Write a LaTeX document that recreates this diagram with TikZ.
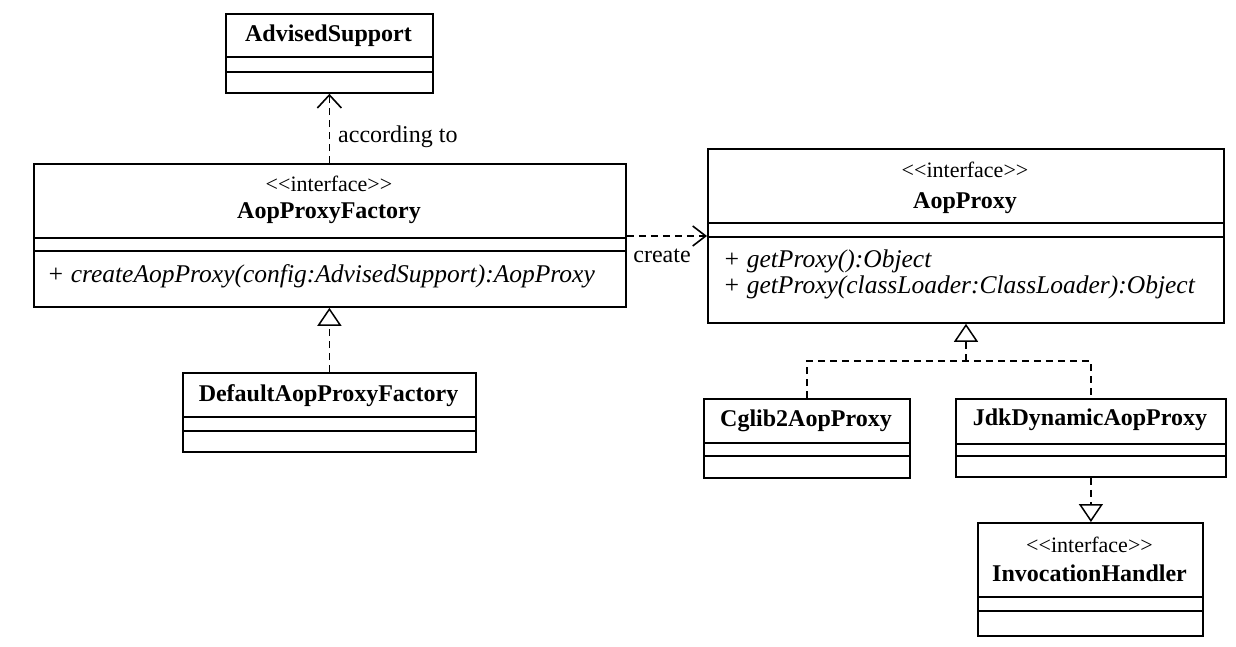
\documentclass[tikz,border=0pt]{standalone}
\usepackage{fontspec}
\setmainfont{Liberation Serif}
\usetikzlibrary{arrows.meta}
\newcommand{\stereotxt}{<\kern0pt<\kern0pt interface\kern0pt>\kern0pt>}
\begin{document}
\begin{tikzpicture}[x=1pt,y=-1pt,
  cls/.style={draw, line width=1.8pt, anchor=north west, inner sep=0pt},
  sepl/.style={line width=1.5pt},
  txtbase/.style={text height=.7em, text depth=.2em, inner sep=0pt, yshift=-3pt},
  cname/.style={txtbase, font=\fontsize{24}{28}\selectfont\bfseries},
  stereo/.style={txtbase, font=\fontsize{22}{26}\selectfont},
  meth/.style={txtbase, anchor=west, font=\fontsize{25.5}{30}\selectfont\itshape},
  lbl/.style={txtbase, font=\fontsize{24}{28}\selectfont},
  dep/.style={line width=1.6pt, dash pattern=on 7pt off 5pt},
  usearrow/.style={dep, -{Straight Barb[length=13pt,width=#1,line width=1.6pt]}},
  realz/.style={dep, -{Triangle[length=18pt,width=24pt,fill=white,line width=1.5pt]}}
]
\fill[white] (0,0) rectangle (1236,646);
\useasboundingbox (0,0) rectangle (1236,646);

% AdvisedSupport
\node[cls, minimum width=207pt, minimum height=79pt] (adv) at (225,13) {};
\draw[sepl] (adv.west |- 0,57) -- (adv.east |- 0,57);
\draw[sepl] (adv.west |- 0,72) -- (adv.east |- 0,72);
\node[cname] (advn) at (328.5,36) {AdvisedSupport};

% AopProxyFactory
\node[cls, minimum width=592pt, minimum height=143pt] (apf) at (33,163) {};
\draw[sepl] (apf.west |- 0,238) -- (apf.east |- 0,238);
\draw[sepl] (apf.west |- 0,251) -- (apf.east |- 0,251);
\node[stereo] (apfs) at (329,186) {\stereotxt};
\node[cname] (apfn) at (329,213) {AopProxyFactory};
\node[meth] (apfm) at (47,277) {+ createAopProxy(config:AdvisedSupport):AopProxy};

% DefaultAopProxyFactory
\node[cls, minimum width=293pt, minimum height=79pt] (dapf) at (182,372) {};
\draw[sepl] (dapf.west |- 0,417) -- (dapf.east |- 0,417);
\draw[sepl] (dapf.west |- 0,431) -- (dapf.east |- 0,431);
\node[cname] (dapfn) at (328.5,396) {DefaultAopProxyFactory};

% AopProxy
\node[cls, minimum width=516pt, minimum height=174pt] (ap) at (707,148) {};
\draw[sepl] (ap.west |- 0,223) -- (ap.east |- 0,223);
\draw[sepl] (ap.west |- 0,237) -- (ap.east |- 0,237);
\node[stereo] (aps) at (965,172) {\stereotxt};
\node[cname] (apn) at (965,203) {AopProxy};
\node[meth] (apm1) at (723,262) {+ getProxy():Object};
\node[meth] (apm2) at (723,288) {+ getProxy(classLoader:ClassLoader):Object};

% Cglib2AopProxy
\node[cls, minimum width=206pt, minimum height=79pt] (cg) at (703,398) {};
\draw[sepl] (cg.west |- 0,443) -- (cg.east |- 0,443);
\draw[sepl] (cg.west |- 0,456) -- (cg.east |- 0,456);
\node[cname] (cgn) at (806,421) {Cglib2AopProxy};

% JdkDynamicAopProxy
\node[cls, minimum width=270pt, minimum height=78pt] (jdk) at (955,398) {};
\draw[sepl] (jdk.west |- 0,444) -- (jdk.east |- 0,444);
\draw[sepl] (jdk.west |- 0,456) -- (jdk.east |- 0,456);
\node[cname] (jdkn) at (1090,420) {JdkDynamicAopProxy};

% InvocationHandler
\node[cls, minimum width=225pt, minimum height=113pt] (ih) at (977,522) {};
\draw[sepl] (ih.west |- 0,597) -- (ih.east |- 0,597);
\draw[sepl] (ih.west |- 0,611) -- (ih.east |- 0,611);
\node[stereo] (ihs) at (1089.5,547) {\stereotxt};
\node[cname] (ihn) at (1089.5,576) {InvocationHandler};

% connectors
\draw[usearrow=24pt] (adv.south |- apf.north) -- (adv.south);
\node[lbl, anchor=west] (acc) at (338,137) {according to};

\draw[usearrow=20pt] (apf.east |- 0,236) -- (ap.west |- 0,236);
\node[lbl] (crt) at (662,257) {create};

\draw[realz] (dapf.north) -- (dapf.north |- apf.south);

\coordinate (jn) at (966,361);
\draw[dep] (cg.north) |- (jn) -| (jdk.north);
\draw[realz] (jn) -- (jn |- ap.south);

\draw[realz] (jdk.south) -- (jdk.south |- ih.north);
\end{tikzpicture}
\end{document}
